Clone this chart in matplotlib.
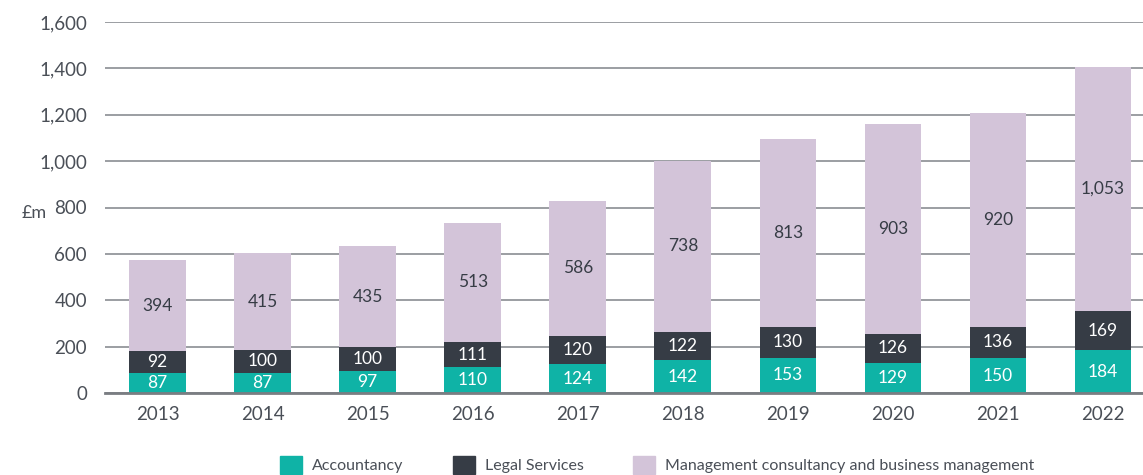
import matplotlib.pyplot as plt
from matplotlib.patches import Patch

years = ["2013", "2014", "2015", "2016", "2017", "2018", "2019", "2020", "2021", "2022"]
accountancy = [87, 87, 97, 110, 124, 142, 153, 129, 150, 184]
legal = [92, 100, 100, 111, 120, 122, 130, 126, 136, 169]
management = [394, 415, 435, 513, 586, 738, 813, 903, 920, 1053]

teal = "#0fb3a6"
dark = "#363c45"
lilac = "#d3c4d9"
txt = "#4a4f57"

plt.rcParams['font.family'] = ['Lato', 'DejaVu Sans']

fig = plt.figure(figsize=(11.43, 4.75), dpi=100)
ax = fig.add_axes([105 / 1143, 1 - 393 / 475, 1 - 105 / 1143, 371 / 475])

x = list(range(len(years)))
w = 0.54
bottom2 = accountancy
bottom3 = [a + l for a, l in zip(accountancy, legal)]
ax.bar(x, accountancy, w, color=teal, zorder=3)
ax.bar(x, legal, w, bottom=bottom2, color=dark, zorder=3)
ax.bar(x, management, w, bottom=bottom3, color=lilac, zorder=3)

for i in x:
    ax.text(i, accountancy[i] / 2, f"{accountancy[i]:,}", ha="center", va="center",
            color="white", fontsize=12.5, zorder=4)
    ax.text(i, bottom2[i] + legal[i] / 2, f"{legal[i]:,}", ha="center", va="center",
            color="white", fontsize=12.5, zorder=4)
    ax.text(i, bottom3[i] + management[i] / 2, f"{management[i]:,}", ha="center", va="center",
            color=dark, fontsize=12.5, zorder=4)

ax.set_ylim(0, 1600)
ax.set_xlim(-0.5, 9.38)
ax.set_yticks(range(0, 1601, 200))
ax.set_yticklabels([f"{v:,}" for v in range(0, 1601, 200)])
ax.set_xticks(x)
ax.set_xticklabels(years)
ax.yaxis.grid(True, color="#8a8d92", linewidth=1.2, zorder=0)
ax.tick_params(length=0, labelsize=13.5, colors=txt, pad=9)
ax.tick_params(axis="y", pad=13)
for s in ["top", "right", "left"]:
    ax.spines[s].set_visible(False)
ax.spines["bottom"].set_color("#7a7d82")
ax.spines["bottom"].set_linewidth(2)
ax.spines["bottom"].set_zorder(5)

fig.text(22 / 1143, 1 - 213 / 475, "£m", fontsize=13, color=txt, va="center")

handles = [Patch(color=teal, label="Accountancy"),
           Patch(color=dark, label="Legal Services"),
           Patch(color=lilac, label="Management consultancy and business management")]
fig.legend(handles=handles, loc="center", bbox_to_anchor=(657 / 1143, 1 - 465 / 475), ncol=3,
           frameon=False, fontsize=11.5, labelcolor=txt, handlelength=1.4, handleheight=1.4,
           columnspacing=3.1, handletextpad=0.6)

fig.savefig("out.png", dpi=100)
